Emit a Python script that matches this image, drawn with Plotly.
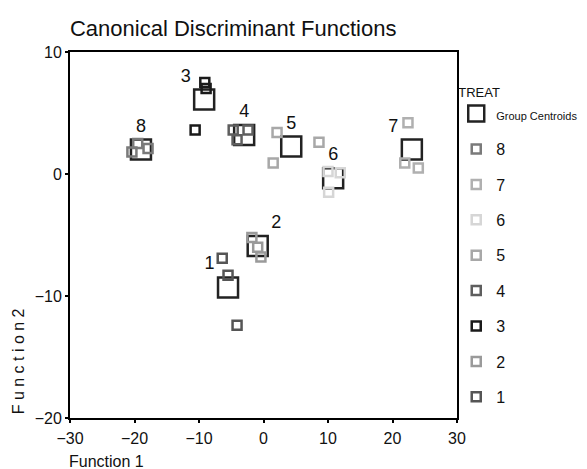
import plotly.graph_objects as go

# ---- data ----
groups = ["1", "2", "3", "4", "5", "6", "7", "8"]
case_x = {
    "1": [-6.4, -5.5, -4.1],
    "2": [-1.8, -0.9, -0.4],
    "3": [-9.1, -8.9, -10.6],
    "4": [-4.7, -2.4, -4.1],
    "5": [2.1, 1.5, 8.6],
    "6": [10.0, 11.9, 10.1],
    "7": [22.4, 21.9, 24.0],
    "8": [-19.5, -20.4, -17.9],
}
case_y = {
    "1": [-6.9, -8.3, -12.4],
    "2": [-5.2, -6.0, -6.8],
    "3": [7.5, 7.0, 3.6],
    "4": [3.6, 3.6, 2.8],
    "5": [3.4, 0.9, 2.6],
    "6": [0.2, 0.1, -1.5],
    "7": [4.2, 0.9, 0.5],
    "8": [2.5, 1.8, 2.1],
}
centroid_x = [-5.5, -0.9, -9.2, -3.0, 4.3, 10.8, 23.0, -19.0]
centroid_y = [-9.3, -5.9, 6.1, 3.2, 2.25, -0.35, 2.0, 2.0]
centroid_labels = groups
x_ticks = [-30, -20, -10, 0, 10, 20, 30]
y_ticks = [-20, -10, 0, 10]

# ---- styles ----
colors = {"1": "#555555", "2": "#9a9a9a", "3": "#1a1a1a", "4": "#5e5e5e",
          "5": "#a8a8a8", "6": "#d6d6d6", "7": "#b0b0b0", "8": "#7a7a7a"}
label_pos = ["top left", "top right", "top left", "top center",
             "top center", "top center", "top left", "top center"]

FONT = "Liberation Sans, Arial, sans-serif"

fig = go.Figure()

fig.add_trace(go.Scatter(
    x=centroid_x, y=centroid_y, mode="markers+text",
    text=centroid_labels, textposition=label_pos,
    textfont=dict(size=18, color="#111111", family=FONT),
    marker=dict(symbol="square-open", size=20, color="#222222",
                line=dict(width=2.5, color="#222222")),
    name="<span style='font-size:11px'>Group Centroids</span>",
    legendrank=1, legendgroup="c",
))

for i, g in enumerate(reversed(groups)):
    fig.add_trace(go.Scatter(
        x=case_x[g], y=case_y[g], mode="markers",
        marker=dict(symbol="square-open", size=9, color=colors[g],
                    line=dict(width=2.5, color=colors[g])),
        name=g, legendrank=2 + i, legendgroup=g,
    ))

fig.update_layout(
    width=579, height=461,
    margin=dict(l=62, r=130, t=44, b=51, autoexpand=False),
    paper_bgcolor="white", plot_bgcolor="white",
    font=dict(family=FONT, color="#111111"),
    title=dict(text="Canonical Discriminant Functions", x=0.107, xanchor="left",
               y=0.957, yanchor="middle", yref="container",
               font=dict(size=22, family=FONT, color="#111111")),
    showlegend=True,
    legend=dict(x=0.998, xanchor="left", y=0.924, yanchor="top",
                title=dict(text="TREAT", font=dict(size=13)),
                font=dict(size=16, family=FONT),
                tracegroupgap=11.6, itemsizing="trace",
                bgcolor="rgba(0,0,0,0)"),
    xaxis=dict(range=[-30, 30], tickvals=x_ticks, showgrid=False, zeroline=False,
               showline=True, linecolor="black", linewidth=2, mirror=True,
               ticks="outside", ticklen=3, tickwidth=2, tickcolor="black",
               ticklabelstandoff=2,
               tickfont=dict(size=16), title=None),
    yaxis=dict(range=[-20, 10], tickvals=y_ticks, showgrid=False, zeroline=False,
               showline=True, linecolor="black", linewidth=2, mirror=True,
               ticks="outside", ticklen=3, tickwidth=2, tickcolor="black",
               tickfont=dict(size=16), title=None),
    annotations=[
        dict(text="Function 1", xref="paper", yref="paper", x=-0.008, y=-0.1175,
             xanchor="left", yanchor="middle", showarrow=False,
             font=dict(size=16, family=FONT)),
        dict(text="F u n c t i o n 2", xref="paper", yref="paper", x=-0.134, y=0.005,
             xanchor="center", yanchor="bottom", textangle=-90, showarrow=False,
             font=dict(size=16, family=FONT)),
    ],
)

fig.write_html("out.html")
